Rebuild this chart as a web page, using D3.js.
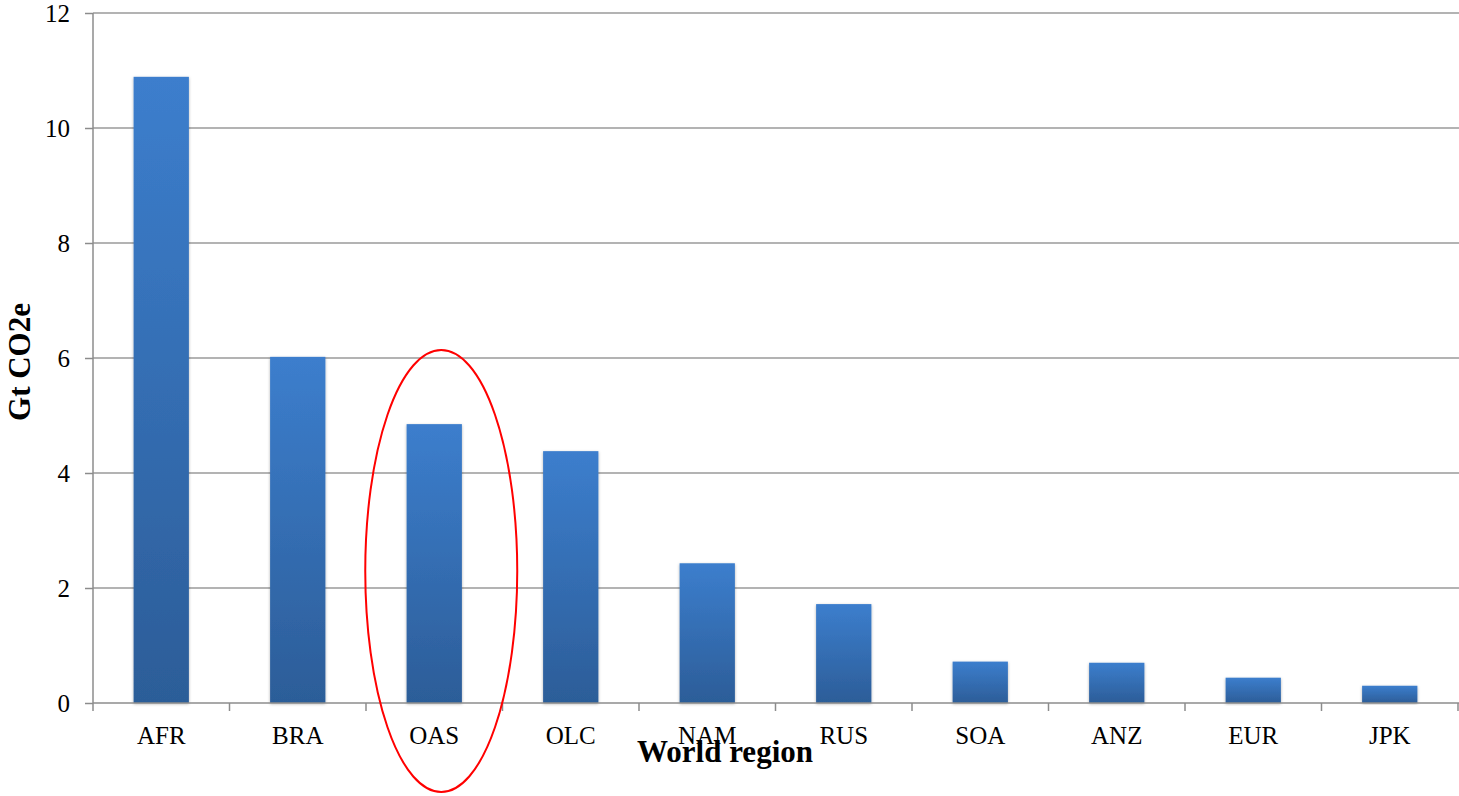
<!DOCTYPE html>
<html><head><meta charset="utf-8">
<script src="https://cdn.jsdelivr.net/npm/d3@7"></script>
<style>body{margin:0;background:#fff}svg{display:block}</style>
</head><body>
<svg id="chart" width="1459" height="796"></svg>
<script>
const categories = ["AFR","BRA","OAS","OLC","NAM","RUS","SOA","ANZ","EUR","JPK"];
const values = [10.89, 6.02, 4.85, 4.38, 2.43, 1.72, 0.72, 0.70, 0.44, 0.30];
const yTicks = [0, 2, 4, 6, 8, 10, 12];
const yTitle = "Gt CO2e";
const xTitle = "World region";
const highlighted = "OAS";

(function () {
const svg = d3.select("#chart");
const mLeft = 93, mRight = 1458, mTop = 13, mBottom = 703;
const font = "'Liberation Serif','Times New Roman',serif";

const x = d3.scaleBand().domain(categories).range([mLeft, mRight]).padding(0);
const y = d3.scaleLinear().domain([0, 12]).range([mBottom, mTop]);

const defs = svg.append("defs");
const grad = defs.append("linearGradient").attr("id","barGrad").attr("x1",0).attr("y1",0).attr("x2",0).attr("y2",1);
grad.append("stop").attr("offset","0%").attr("stop-color","#3c7ecd");
grad.append("stop").attr("offset","100%").attr("stop-color","#2c5d98");
const f = defs.append("filter").attr("id","shadow").attr("x","-20%").attr("y","-5%").attr("width","140%").attr("height","115%");
f.append("feDropShadow").attr("dx",0).attr("dy",1).attr("stdDeviation",1.5).attr("flood-color","#000").attr("flood-opacity",0.3);

// gridlines
svg.append("g").selectAll("line").data(yTicks.filter(d => d > 0)).join("line")
  .attr("x1", mLeft).attr("x2", mRight + 1)
  .attr("y1", d => y(d)).attr("y2", d => y(d))
  .attr("stroke", "#9a9a9a").attr("stroke-width", 1.5);

// y axis
const yAxis = svg.append("g").attr("transform", `translate(${mLeft},0)`)
  .call(d3.axisLeft(y).tickValues(yTicks).tickSize(8).tickPadding(15).tickFormat(d3.format("d")));
yAxis.select(".domain").attr("stroke", "#8c8c8c").attr("stroke-width", 1.5).attr("d", `M0,${mTop}V${mBottom}`);
yAxis.selectAll(".tick line").attr("stroke", "#8c8c8c").attr("stroke-width", 1.5);
yAxis.selectAll(".tick text").attr("font-family", font).attr("font-size", 25).attr("fill", "#000");

// bars
const bw = x.bandwidth() * 0.405;
svg.append("g").selectAll("rect").data(values).join("rect")
  .attr("x", (d, i) => x(categories[i]) + x.bandwidth() / 2 - bw / 2)
  .attr("y", d => y(d))
  .attr("width", bw)
  .attr("height", d => mBottom - y(d))
  .attr("fill", "url(#barGrad)")
  .attr("filter", "url(#shadow)");

// x axis
const xAxis = svg.append("g").attr("transform", `translate(0,${mBottom})`)
  .call(d3.axisBottom(x).tickSize(0).tickPadding(23));
xAxis.select(".domain").attr("stroke", "#8c8c8c").attr("stroke-width", 1.5).attr("d", `M${mLeft},0H${mRight + 1}`);
xAxis.selectAll(".tick text").attr("font-family", font).attr("font-size", 25).attr("fill", "#000");
// category boundary ticks
svg.append("g").selectAll("line").data(categories.concat(["__end"])).join("line")
  .attr("x1", (d, i) => mLeft + i * x.step()).attr("x2", (d, i) => mLeft + i * x.step())
  .attr("y1", mBottom).attr("y2", mBottom + 8)
  .attr("stroke", "#8c8c8c").attr("stroke-width", 1.5);

// axis titles
svg.append("text").attr("x", 725).attr("y", 762).attr("text-anchor", "middle")
  .attr("font-family", font).attr("font-weight", "bold").attr("font-size", 31).text(xTitle);
svg.append("text").attr("transform", "translate(30,362) rotate(-90)").attr("text-anchor", "middle")
  .attr("font-family", font).attr("font-weight", "bold").attr("font-size", 31).text(yTitle);

// highlight ellipse
const cx = x(highlighted) + x.bandwidth() / 2 + 7;
svg.append("ellipse").attr("cx", cx).attr("cy", 571).attr("rx", 76).attr("ry", 221)
  .attr("fill", "none").attr("stroke", "#ff0000").attr("stroke-width", 2);
})();
</script>
</body></html>
